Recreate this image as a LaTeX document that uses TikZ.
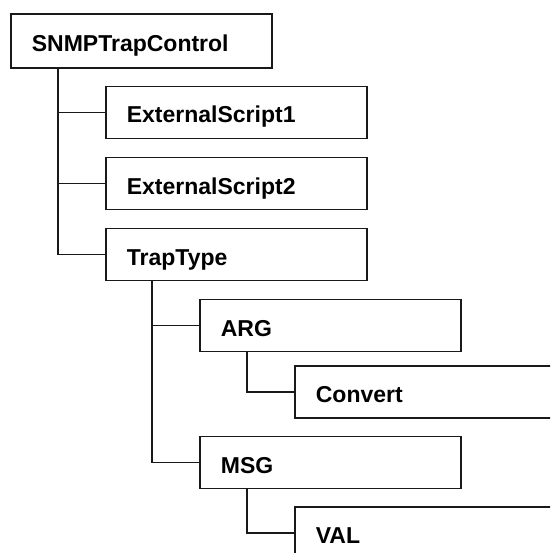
\documentclass[tikz,border=0pt]{standalone}
\usepackage{fontspec}
\setmainfont{Liberation Sans}
\usetikzlibrary{positioning}

\begin{document}
\begin{tikzpicture}[x=1pt, y=-1pt,
    box/.style={rectangle, draw=black!90, line width=1.7pt, anchor=west,
    minimum height=52pt, inner xsep=21pt, text width=219pt, align=left,
    text height=21pt, text depth=0pt,
    font=\fontsize{23}{26}\selectfont\bfseries},
    link/.style={draw=black!90, line width=1.7pt}]

    \useasboundingbox (0,0) rectangle (550,553);
    \clip (0,0) rectangle (550,553);

    % Root
    \node[box, minimum height=54pt] (root) at (10,41) {SNMPTrapControl};

    % First level
    \node[box] (ext1) at (105,112.5) {ExternalScript1};
    \node[box] (ext2) at (105,183.5) {ExternalScript2};
    \node[box] (trap) at (105,254.5) {TrapType};

    % Under TrapType
    \node[box] (arg) at (199,325.5) {ARG};
    \node[box] (conv) at (294,392) {Convert};
    \node[box] (msg) at (199,462.5) {MSG};
    \node[box] (val) at (294,533) {VAL};

    \draw[link] ([xshift=48pt]root.south west) |- (ext1.west);
    \draw[link] ([xshift=48pt]root.south west) |- (ext2.west);
    \draw[link] ([xshift=48pt]root.south west) |- (trap.west);

    \draw[link] ([xshift=47pt]trap.south west) |- (arg.west);
    \draw[link] ([xshift=47pt]trap.south west) |- (msg.west);

    \draw[link] ([xshift=48pt]arg.south west) |- (conv.west);
    \draw[link] ([xshift=48pt]msg.south west) |- (val.west);
\end{tikzpicture}
\end{document}
